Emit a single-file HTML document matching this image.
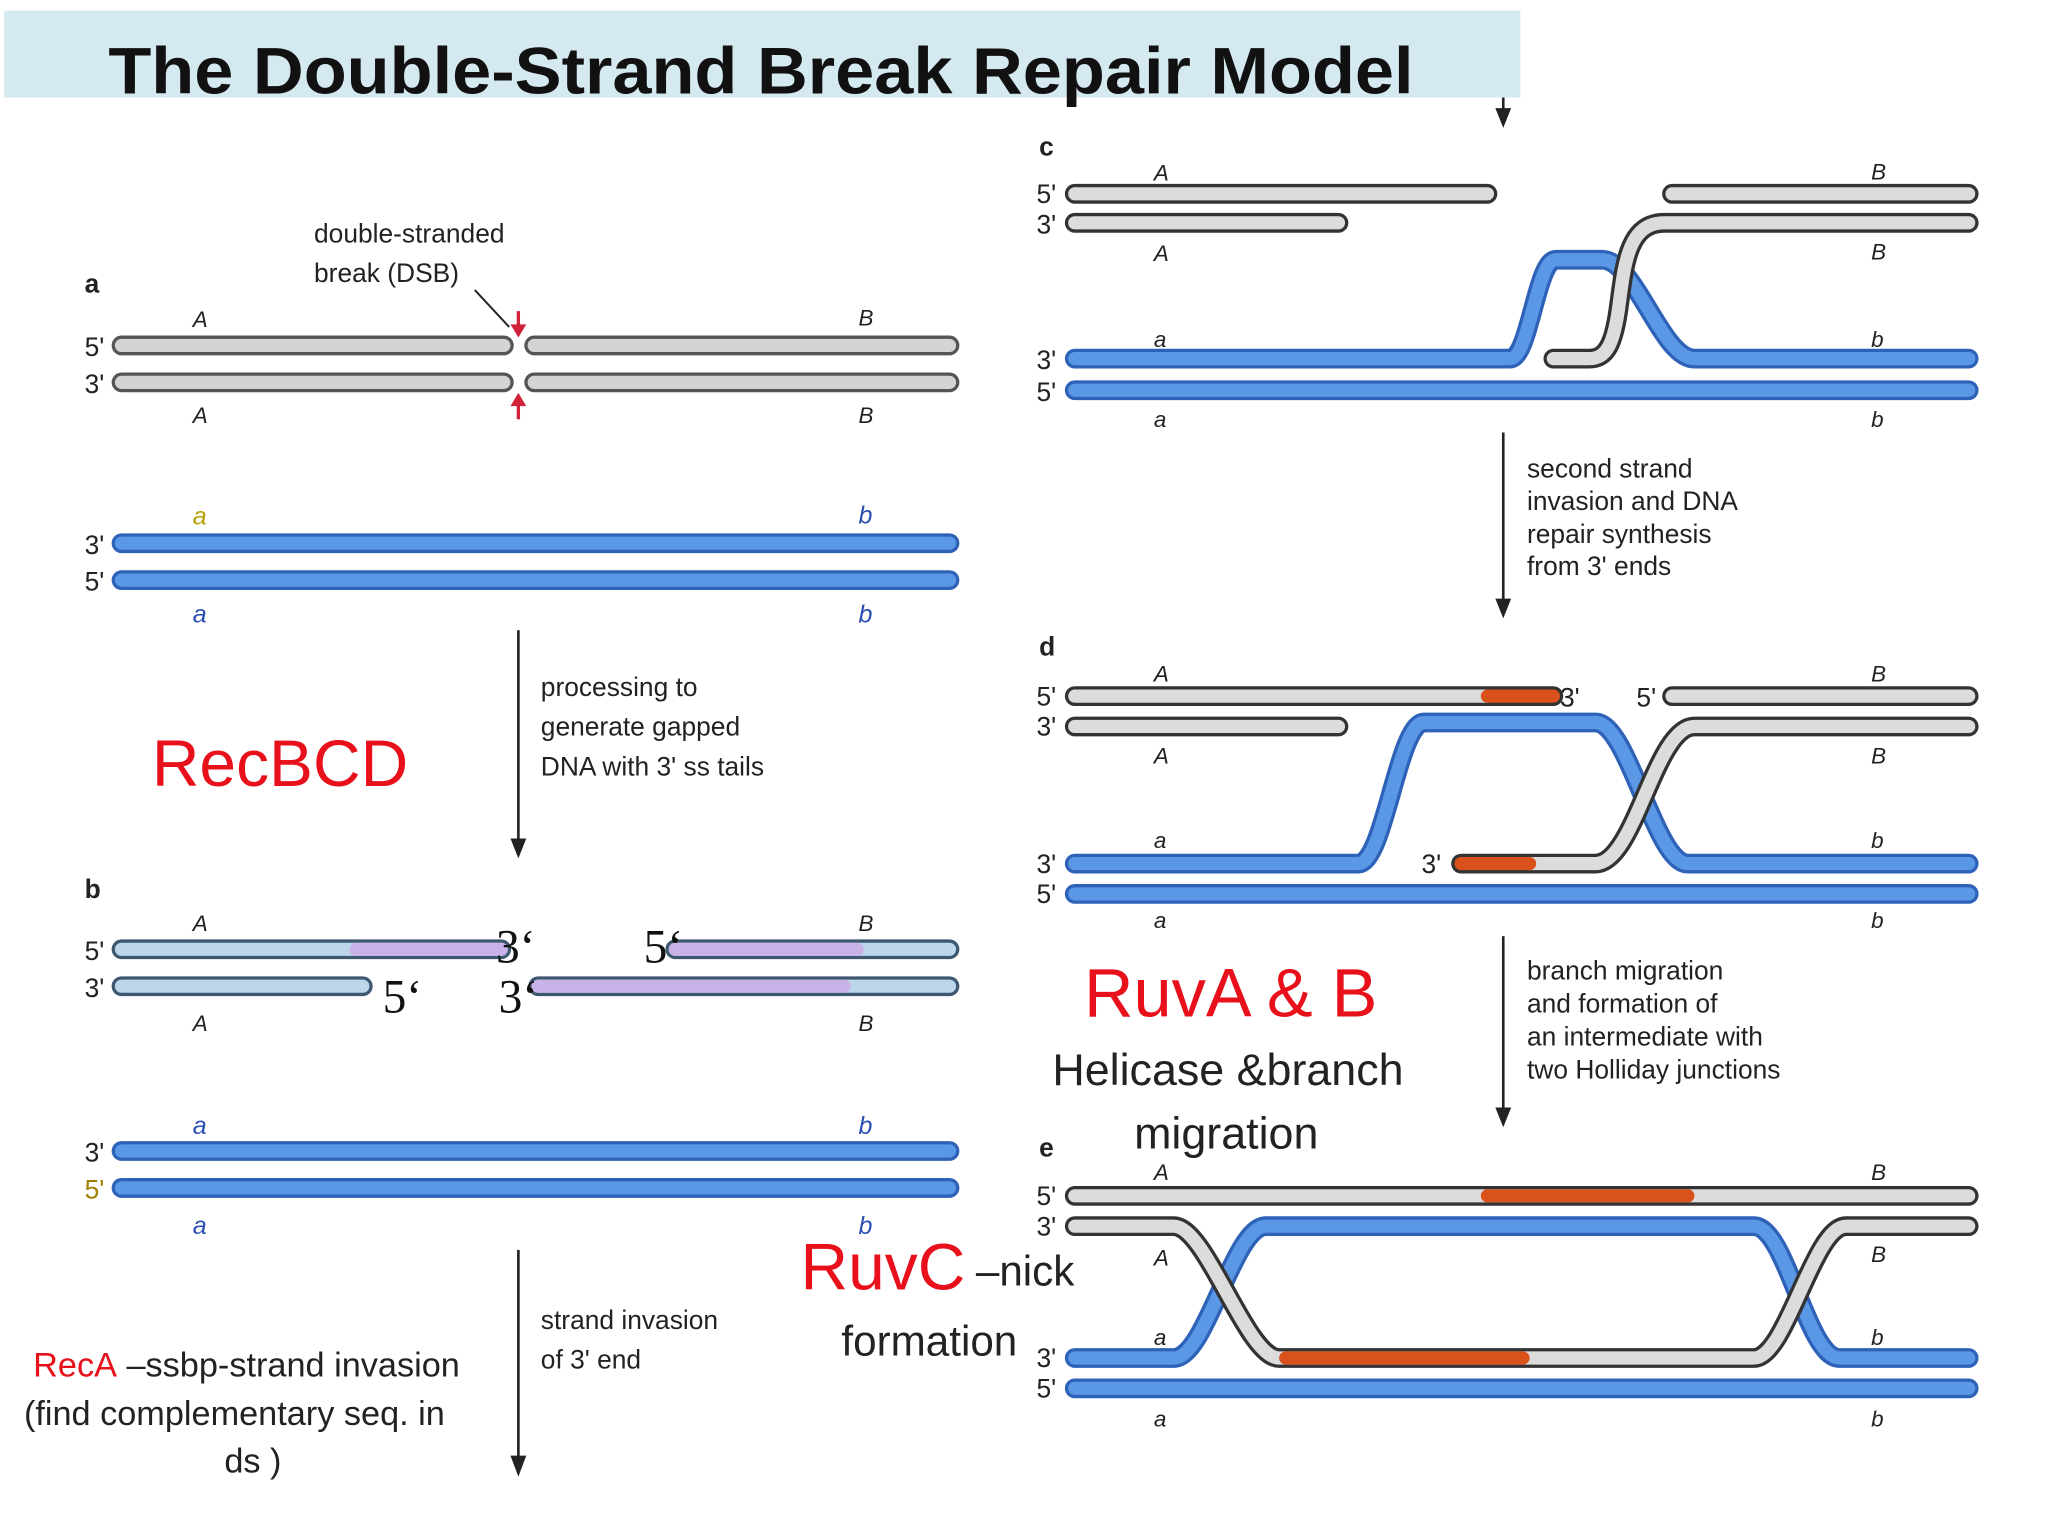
<!DOCTYPE html>
<html><head><meta charset="utf-8"><style>
html,body{margin:0;padding:0;background:#fff;width:2048px;height:1536px;overflow:hidden}
svg{display:block}
.t{font-family:"Liberation Sans",sans-serif;fill:#222}
.s{font-family:"Liberation Sans",sans-serif;font-size:17px;fill:#222;font-style:italic}
.n{font-family:"Liberation Sans",sans-serif;font-size:20px;fill:#222}
.bl{font-family:"Liberation Sans",sans-serif;font-size:19px;fill:#2a4fb0;font-style:italic}
.ser{font-family:"Liberation Serif",serif;font-size:36px;fill:#111}
.o{fill:none;stroke-linecap:round;stroke-linejoin:round}
</style></head><body>
<svg width="2048" height="1536" viewBox="0 0 1553 1165" xmlns="http://www.w3.org/2000/svg">
<rect x="3" y="8" width="1150" height="66" fill="#d5e9f1"/>
<text x="82" y="71" class="t" font-size="50" font-weight="bold" textLength="990" lengthAdjust="spacingAndGlyphs" style="fill:#111">The Double-Strand Break Repair Model</text>

<!-- Panel a -->
<text x="64" y="222" class="n" font-weight="bold">a</text>
<text x="238" y="184" class="n">double-stranded</text>
<text x="238" y="214" class="n">break (DSB)</text>
<line x1="360" y1="220" x2="386" y2="248" stroke="#222" stroke-width="1.5"/>
<g class="o">
<path d="M92,262H382M405,262H720M92,290H382M405,290H720" stroke="#555" stroke-width="15"/>
<path d="M92,262H382M405,262H720M92,290H382M405,290H720" stroke="#d4d4d4" stroke-width="10"/>
<path d="M92,412H720M92,440H720" stroke="#2e62b8" stroke-width="15"/>
<path d="M92,412H720M92,440H720" stroke="#5a98e6" stroke-width="10"/>
</g>
<path d="M393,236v14M393,318v-14" stroke="#d0223a" stroke-width="2.5"/>
<path d="M387,246l6,10 6,-10zM387,308l6,-10 6,10z" fill="#d0223a"/>
<text x="146" y="248" class="s">A</text><text x="651" y="247" class="s">B</text>
<text x="146" y="321" class="s">A</text><text x="651" y="321" class="s">B</text>
<text x="64" y="270" class="n">5'</text><text x="64" y="298" class="n">3'</text>
<text x="146" y="398" class="bl" style="fill:#b8a000">a</text><text x="651" y="397" class="bl">b</text>
<text x="146" y="472" class="bl">a</text><text x="651" y="472" class="bl">b</text>
<text x="64" y="420" class="n">3'</text><text x="64" y="448" class="n">5'</text>
<line x1="393" y1="478" x2="393" y2="638" stroke="#222" stroke-width="2"/>
<path d="M387,636h12l-6,15z" fill="#222"/>
<text x="410" y="528" class="n">processing to</text>
<text x="410" y="558" class="n">generate gapped</text>
<text x="410" y="588" class="n">DNA with 3' ss tails</text>
<text x="115" y="596" class="t" font-size="50" style="fill:#e8101a">RecBCD</text>

<!-- Panel b -->
<text x="64" y="681" class="n" font-weight="bold">b</text>
<g class="o">
<path d="M92,720H380M512,720H720M92,748H275M408,748H720" stroke="#3d5870" stroke-width="15"/>
<path d="M92,720H380M512,720H720M92,748H275M408,748H720" stroke="#bcd6ea" stroke-width="10"/>
<path d="M270,720H380M512,720H650M408,748H640" stroke="#c9b2e8" stroke-width="10"/>
<path d="M92,873H720M92,901H720" stroke="#2e62b8" stroke-width="15"/>
<path d="M92,873H720M92,901H720" stroke="#5a98e6" stroke-width="10"/>
</g>
<text x="376" y="730" class="ser">3‘</text><text x="488" y="730" class="ser">5‘</text>
<text x="290" y="768" class="ser">5‘</text><text x="378" y="768" class="ser">3‘</text>
<text x="146" y="706" class="s">A</text><text x="651" y="706" class="s">B</text>
<text x="146" y="782" class="s">A</text><text x="651" y="782" class="s">B</text>
<text x="64" y="728" class="n">5'</text><text x="64" y="756" class="n">3'</text>
<text x="146" y="860" class="bl">a</text><text x="651" y="860" class="bl">b</text>
<text x="146" y="936" class="bl">a</text><text x="651" y="936" class="bl">b</text>
<text x="64" y="881" class="n">3'</text><text x="64" y="909" class="n" style="fill:#a08000">5'</text>
<line x1="393" y1="948" x2="393" y2="1106" stroke="#222" stroke-width="2"/>
<path d="M387,1104h12l-6,16z" fill="#222"/>
<text x="410" y="1008" class="n">strand invasion</text>
<text x="410" y="1038" class="n">of 3' end</text>
<text x="25" y="1044" class="t" font-size="26"><tspan style="fill:#e8101a">RecA</tspan> –ssbp-strand invasion</text>
<text x="18" y="1081" class="t" font-size="26">(find complementary seq. in</text>
<text x="170" y="1117" class="t" font-size="26">ds )</text>

<!-- Panel c -->
<line x1="1140" y1="74" x2="1140" y2="84" stroke="#222" stroke-width="2"/>
<path d="M1134,82h12l-6,15z" fill="#222"/>
<text x="788" y="118" class="n" font-weight="bold">c</text>
<g class="o">
<path d="M815,272H1145C1160,272 1165,197 1180,197H1215C1240,197 1260,272 1285,272H1493M815,296H1493" stroke="#2e62b8" stroke-width="15"/>
<path d="M815,272H1145C1160,272 1165,197 1180,197H1215C1240,197 1260,272 1285,272H1493M815,296H1493" stroke="#5a98e6" stroke-width="10"/>
<path d="M815,147H1128M1268,147H1493M815,169H1015M1493,169H1262C1235,169 1232,200 1228,230C1224,262 1218,272 1205,272H1178" stroke="#333" stroke-width="15"/>
<path d="M815,147H1128M1268,147H1493M815,169H1015M1493,169H1262C1235,169 1232,200 1228,230C1224,262 1218,272 1205,272H1178" stroke="#dcdcdc" stroke-width="10"/>
</g>
<text x="875" y="137" class="s">A</text><text x="1419" y="136" class="s">B</text>
<text x="875" y="198" class="s">A</text><text x="1419" y="197" class="s">B</text>
<text x="875" y="263" class="s">a</text><text x="1419" y="263" class="s">b</text>
<text x="875" y="324" class="s">a</text><text x="1419" y="324" class="s">b</text>
<text x="786" y="154" class="n">5'</text><text x="786" y="177" class="n">3'</text>
<text x="786" y="280" class="n">3'</text><text x="786" y="304" class="n">5'</text>
<line x1="1140" y1="328" x2="1140" y2="456" stroke="#222" stroke-width="2"/>
<path d="M1134,454h12l-6,15z" fill="#222"/>
<text x="1158" y="362" class="n">second strand</text>
<text x="1158" y="387" class="n">invasion and DNA</text>
<text x="1158" y="412" class="n">repair synthesis</text>
<text x="1158" y="436" class="n">from 3' ends</text>

<!-- Panel d -->
<text x="788" y="497" class="n" font-weight="bold">d</text>
<g class="o">
<path d="M815,655H1030C1050,655 1060,548 1080,548H1210C1235,548 1255,655 1280,655H1493M815,678H1493" stroke="#2e62b8" stroke-width="15"/>
<path d="M815,655H1030C1050,655 1060,548 1080,548H1210C1235,548 1255,655 1280,655H1493M815,678H1493" stroke="#5a98e6" stroke-width="10"/>
<path d="M815,528H1178M1268,528H1493M815,551H1015M1493,551H1285C1255,551 1240,655 1210,655H1108" stroke="#333" stroke-width="15"/>
<path d="M815,528H1128M1268,528H1493M815,551H1015M1493,551H1285C1255,551 1240,655 1210,655H1160" stroke="#dcdcdc" stroke-width="10"/>
<path d="M1128,528H1178M1108,655H1160" stroke="#d9521c" stroke-width="10"/>
</g>
<text x="1183" y="536" class="n">3'</text><text x="1241" y="536" class="n">5'</text>
<text x="1078" y="662" class="n">3'</text>
<text x="875" y="517" class="s">A</text><text x="1419" y="517" class="s">B</text>
<text x="875" y="579" class="s">A</text><text x="1419" y="579" class="s">B</text>
<text x="875" y="643" class="s">a</text><text x="1419" y="643" class="s">b</text>
<text x="875" y="704" class="s">a</text><text x="1419" y="704" class="s">b</text>
<text x="786" y="535" class="n">5'</text><text x="786" y="558" class="n">3'</text>
<text x="786" y="662" class="n">3'</text><text x="786" y="685" class="n">5'</text>
<line x1="1140" y1="710" x2="1140" y2="842" stroke="#222" stroke-width="2"/>
<path d="M1134,840h12l-6,15z" fill="#222"/>
<text x="1158" y="743" class="n">branch migration</text>
<text x="1158" y="768" class="n">and formation of</text>
<text x="1158" y="793" class="n">an intermediate with</text>
<text x="1158" y="818" class="n">two Holliday junctions</text>
<text x="822" y="771" class="t" font-size="52" style="fill:#e8101a">RuvA &amp; B</text>
<text x="798" y="823" class="t" font-size="34">Helicase &amp;branch</text>
<text x="860" y="871" class="t" font-size="34">migration</text>

<!-- Panel e -->
<text x="788" y="877" class="n" font-weight="bold">e</text>
<g class="o">
<path d="M815,1030H890C915,1030 935,930 960,930H1330C1355,930 1370,1030 1395,1030H1493M815,1053H1493" stroke="#2e62b8" stroke-width="15"/>
<path d="M815,1030H890C915,1030 935,930 960,930H1330C1355,930 1370,1030 1395,1030H1493M815,1053H1493" stroke="#5a98e6" stroke-width="10"/>
<path d="M815,907H1493M815,930H890C915,930 945,1030 970,1030H1330C1355,1030 1375,930 1400,930H1493" stroke="#333" stroke-width="15"/>
<path d="M815,907H1493M815,930H890C915,930 945,1030 970,1030H1330C1355,1030 1375,930 1400,930H1493" stroke="#dcdcdc" stroke-width="10"/>
<path d="M1128,907H1280M975,1030H1155" stroke="#d9521c" stroke-width="10"/>
</g>
<text x="875" y="895" class="s">A</text><text x="1419" y="895" class="s">B</text>
<text x="875" y="960" class="s">A</text><text x="1419" y="957" class="s">B</text>
<text x="875" y="1020" class="s">a</text><text x="1419" y="1020" class="s">b</text>
<text x="875" y="1082" class="s">a</text><text x="1419" y="1082" class="s">b</text>
<text x="786" y="914" class="n">5'</text><text x="786" y="937" class="n">3'</text>
<text x="786" y="1037" class="n">3'</text><text x="786" y="1060" class="n">5'</text>
<text x="607" y="978" class="t" font-size="50" style="fill:#e8101a">RuvC</text>
<text x="740" y="975" class="t" font-size="32">–nick</text>
<text x="638" y="1028" class="t" font-size="32">formation</text>
</svg>
</body></html>
